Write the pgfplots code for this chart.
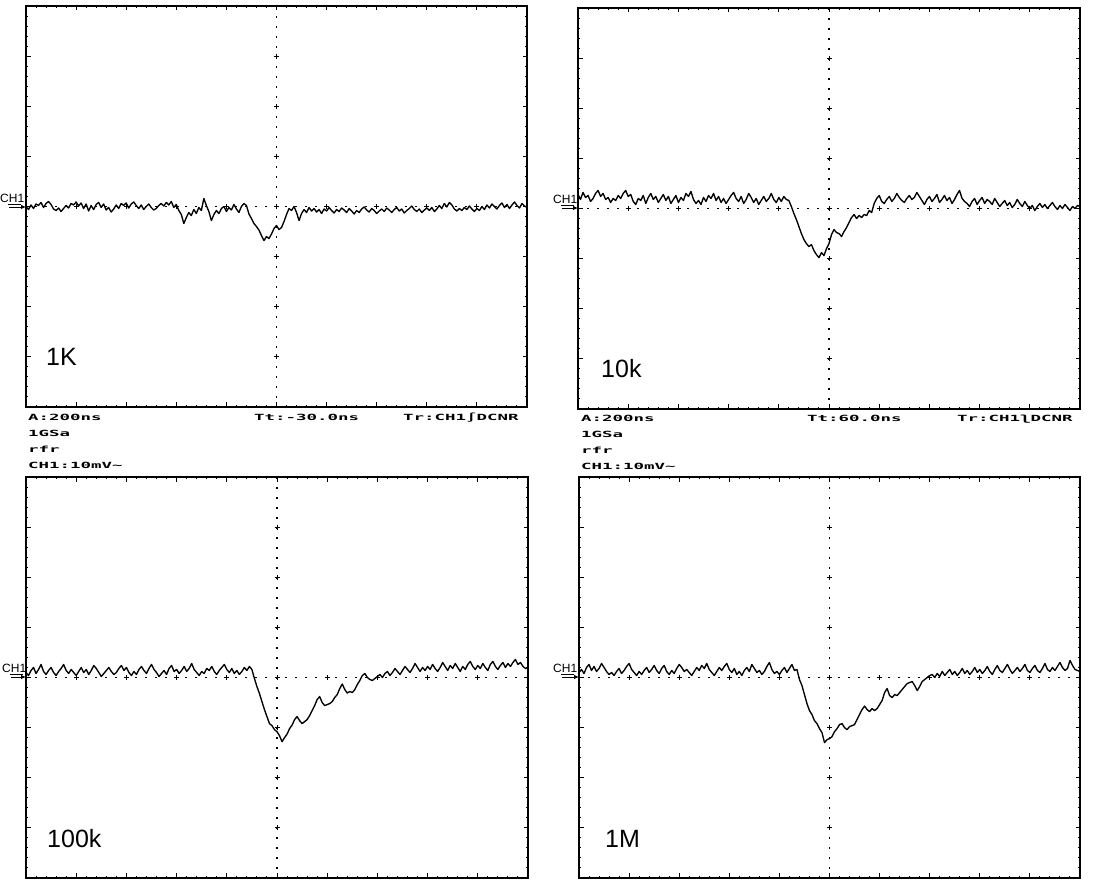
\documentclass[border=0pt]{standalone}
\usepackage{fontspec}
\setmainfont{Liberation Sans}
\setmonofont{DejaVu Sans Mono}
\usepackage{graphicx}
\usepackage{pgfplots}
\pgfplotsset{compat=1.18}
\usetikzlibrary{arrows.meta}

% one scope screen: 10 x 8 divisions, no numbers
\pgfplotsset{scopescreen/.style={
    scale only axis, height=401pt,
    xmin=0, xmax=10, ymin=-4, ymax=4,
    xtick={0,...,10}, ytick={-4,...,4},
    xticklabels={}, yticklabels={},
    minor x tick num=4, minor y tick num=4,
    tick align=inside, major tick length=4.5pt, minor tick length=2pt,
    tick style={black, line width=1pt},
    axis line style={line width=1.4pt},
    anchor=south west, clip=false,
}}
\tikzset{
    trace/.style={black, line width=1.35pt, line join=round},
    grat/.style={black, line width=1.2pt, dash pattern=on 1.2pt off 8.8pt, dash phase=0.6pt},
    scopetxt/.style={anchor=base west, inner sep=0pt},
    bigtxt/.style={anchor=base west, inner sep=0pt, font=\fontsize{25}{28}\selectfont},
}
\newcommand{\scopetext}[1]{\scalebox{2.05}[1]{\ttfamily\bfseries\fontsize{8.5}{10}\selectfont #1}}
\newcommand{\graticule}{%
    \draw[grat] (axis cs:5,-4) -- (axis cs:5,4);
    \draw[grat] (axis cs:0,0) -- (axis cs:10,0);
    \addplot[only marks, mark=+, mark size=2.5pt, mark options={line width=0.9pt}] coordinates {
        (5,-3) (5,-2) (5,-1) (5,0) (5,1) (5,2) (5,3)
        (1,0) (2,0) (3,0) (4,0) (6,0) (7,0) (8,0) (9,0)};
}
\newcommand{\chmark}[3]{% x of text, y of arrow, x of frame
    \node[anchor=base west, inner sep=0pt, font=\fontsize{12}{12}\selectfont] at (#1pt,#2pt+4.5pt) {CH1};
    \draw[line width=0.7pt] (#1pt+8pt,#2pt+3pt) -- (#1pt+21pt,#2pt+3pt);
    \draw[line width=0.8pt, -{Latex[length=5pt,width=4.5pt]}] (#1pt+9pt,#2pt) -- (#3pt,#2pt);
}

\begin{document}
\begin{tikzpicture}
\useasboundingbox (0,0) rectangle (1100pt,880pt);

% ---------- 1K ----------
\begin{axis}[scopescreen, width=501pt, at={(26pt,473pt)}]
\graticule
\addplot[trace] table[row sep=\\, header=false, x expr=\coordindex*0.05, y index=0] {
0.00\\ -0.06\\ 0.03\\ -0.04\\ 0.05\\ 0.02\\ 0.08\\ -0.02\\ 0.06\\ 0.10\\ 0.04\\ -0.05\\ -0.08\\ -0.03\\ -0.10\\ -0.04\\ 0.02\\ -0.03\\ 0.06\\ 0.03\\
0.09\\ 0.01\\ 0.07\\ -0.04\\ 0.05\\ -0.09\\ 0.02\\ -0.06\\ 0.04\\ 0.08\\ -0.02\\ 0.05\\ -0.07\\ -0.02\\ -0.11\\ -0.05\\ 0.03\\ -0.04\\ 0.06\\ 0.02\\
0.07\\ -0.03\\ 0.05\\ 0.09\\ 0.02\\ -0.04\\ 0.03\\ -0.06\\ 0.00\\ 0.05\\ -0.02\\ -0.07\\ -0.04\\ 0.02\\ 0.06\\ 0.01\\ 0.08\\ 0.03\\ 0.10\\ -0.02\\
0.04\\ -0.08\\ -0.16\\ -0.34\\ -0.22\\ -0.12\\ -0.18\\ -0.06\\ -0.14\\ -0.02\\ -0.08\\ 0.16\\ 0.02\\ -0.10\\ -0.28\\ -0.16\\ -0.08\\ -0.14\\ -0.04\\ 0.00\\
-0.10\\ -0.02\\ -0.07\\ 0.04\\ -0.05\\ -0.12\\ 0.00\\ 0.06\\ 0.02\\ -0.15\\ -0.24\\ -0.34\\ -0.40\\ -0.47\\ -0.58\\ -0.68\\ -0.60\\ -0.64\\ -0.55\\ -0.44\\
-0.38\\ -0.46\\ -0.42\\ -0.30\\ -0.16\\ -0.04\\ -0.08\\ 0.00\\ -0.12\\ -0.28\\ -0.14\\ -0.06\\ -0.12\\ -0.02\\ -0.09\\ -0.04\\ -0.11\\ -0.06\\ -0.14\\ -0.05\\
-0.09\\ -0.02\\ -0.08\\ -0.13\\ -0.06\\ -0.10\\ -0.03\\ -0.07\\ -0.12\\ -0.04\\ -0.09\\ -0.15\\ -0.08\\ -0.12\\ -0.05\\ -0.01\\ -0.07\\ -0.11\\ -0.04\\ -0.08\\
-0.14\\ -0.09\\ -0.05\\ -0.10\\ -0.03\\ -0.07\\ -0.12\\ -0.06\\ -0.02\\ -0.09\\ -0.05\\ -0.13\\ -0.08\\ -0.04\\ 0.01\\ -0.06\\ -0.10\\ -0.05\\ -0.12\\ -0.07\\
-0.03\\ -0.08\\ -0.02\\ -0.10\\ -0.05\\ 0.02\\ -0.04\\ 0.06\\ -0.01\\ 0.08\\ 0.03\\ -0.05\\ -0.09\\ -0.04\\ -0.08\\ -0.02\\ -0.06\\ 0.01\\ -0.05\\ -0.10\\
-0.04\\ -0.08\\ 0.00\\ -0.06\\ 0.03\\ -0.03\\ 0.05\\ 0.00\\ -0.05\\ 0.02\\ 0.07\\ -0.02\\ 0.04\\ -0.04\\ 0.03\\ 0.09\\ 0.02\\ -0.03\\ 0.06\\ 0.01\\
-0.02\\
};
\end{axis}

% ---------- 10k ----------
\begin{axis}[scopescreen, width=502pt, at={(578pt,471pt)}]
\graticule
\addplot[trace] table[row sep=\\, header=false, x expr=\coordindex*0.05, y index=0] {
0.28\\ 0.18\\ 0.32\\ 0.22\\ 0.26\\ 0.14\\ 0.20\\ 0.30\\ 0.36\\ 0.24\\ 0.30\\ 0.18\\ 0.22\\ 0.12\\ 0.20\\ 0.16\\ 0.26\\ 0.20\\ 0.30\\ 0.36\\
0.24\\ 0.28\\ 0.14\\ 0.08\\ 0.20\\ 0.16\\ 0.26\\ 0.10\\ 0.22\\ 0.30\\ 0.18\\ 0.24\\ 0.12\\ 0.20\\ 0.28\\ 0.16\\ 0.24\\ 0.10\\ 0.18\\ 0.26\\
0.12\\ 0.22\\ 0.16\\ 0.30\\ 0.24\\ 0.34\\ 0.18\\ 0.10\\ 0.16\\ 0.08\\ 0.22\\ 0.14\\ 0.26\\ 0.20\\ 0.30\\ 0.16\\ 0.24\\ 0.12\\ 0.20\\ 0.10\\
0.18\\ 0.26\\ 0.32\\ 0.20\\ 0.14\\ 0.24\\ 0.10\\ 0.18\\ 0.30\\ 0.22\\ 0.12\\ 0.20\\ 0.08\\ 0.16\\ 0.24\\ 0.14\\ 0.20\\ 0.30\\ 0.18\\ 0.12\\
0.22\\ 0.14\\ 0.24\\ 0.18\\ 0.16\\ 0.04\\ -0.10\\ -0.22\\ -0.36\\ -0.50\\ -0.62\\ -0.70\\ -0.76\\ -0.72\\ -0.84\\ -0.92\\ -0.98\\ -0.88\\ -0.94\\ -0.80\\
-0.70\\ -0.52\\ -0.42\\ -0.48\\ -0.50\\ -0.56\\ -0.46\\ -0.38\\ -0.28\\ -0.18\\ -0.12\\ -0.20\\ -0.14\\ -0.18\\ -0.12\\ -0.14\\ -0.04\\ -0.08\\ 0.10\\ 0.20\\
0.26\\ 0.14\\ 0.10\\ 0.18\\ 0.24\\ 0.14\\ 0.20\\ 0.30\\ 0.22\\ 0.16\\ 0.12\\ 0.20\\ 0.26\\ 0.18\\ 0.22\\ 0.32\\ 0.24\\ 0.16\\ 0.08\\ 0.18\\
0.24\\ 0.14\\ 0.20\\ 0.28\\ 0.12\\ 0.18\\ 0.26\\ 0.16\\ 0.22\\ 0.10\\ 0.18\\ 0.28\\ 0.36\\ 0.20\\ 0.14\\ 0.10\\ 0.04\\ 0.14\\ 0.20\\ 0.08\\
0.16\\ 0.22\\ 0.10\\ 0.18\\ 0.14\\ 0.08\\ 0.20\\ 0.12\\ 0.04\\ 0.10\\ 0.16\\ 0.06\\ 0.12\\ 0.02\\ 0.08\\ 0.18\\ 0.10\\ 0.04\\ 0.14\\ 0.06\\
0.00\\ 0.06\\ -0.04\\ 0.04\\ 0.10\\ 0.02\\ 0.08\\ 0.00\\ 0.06\\ 0.12\\ 0.04\\ -0.02\\ 0.06\\ 0.00\\ 0.08\\ 0.02\\ -0.04\\ 0.04\\ 0.00\\ 0.06\\
0.04\\
};
\end{axis}

% ---------- 100k ----------
\begin{axis}[scopescreen, width=502pt, at={(26pt,2pt)}]
\graticule
\addplot[trace] table[row sep=\\, header=false, x expr=\coordindex*0.05, y index=0] {
0.10\\ 0.04\\ 0.14\\ 0.20\\ 0.08\\ 0.16\\ 0.26\\ 0.12\\ 0.06\\ 0.14\\ 0.20\\ 0.10\\ 0.04\\ 0.12\\ 0.18\\ 0.26\\ 0.14\\ 0.08\\ 0.16\\ 0.10\\
0.04\\ 0.12\\ 0.20\\ 0.10\\ 0.16\\ 0.06\\ 0.14\\ 0.24\\ 0.18\\ 0.10\\ 0.02\\ 0.08\\ 0.14\\ 0.20\\ 0.12\\ 0.06\\ 0.10\\ 0.18\\ 0.24\\ 0.14\\
0.20\\ 0.10\\ 0.04\\ 0.12\\ 0.06\\ 0.16\\ 0.22\\ 0.14\\ 0.08\\ 0.18\\ 0.26\\ 0.16\\ 0.10\\ 0.02\\ 0.08\\ 0.14\\ 0.06\\ 0.18\\ 0.24\\ 0.12\\
0.16\\ 0.08\\ 0.14\\ 0.22\\ 0.12\\ 0.18\\ 0.28\\ 0.16\\ 0.10\\ 0.04\\ 0.12\\ 0.08\\ 0.18\\ 0.14\\ 0.22\\ 0.12\\ 0.06\\ 0.14\\ 0.20\\ 0.26\\
0.16\\ 0.10\\ 0.18\\ 0.08\\ 0.14\\ 0.06\\ 0.12\\ 0.20\\ 0.14\\ 0.22\\ 0.16\\ -0.02\\ -0.18\\ -0.32\\ -0.48\\ -0.64\\ -0.78\\ -0.92\\ -0.96\\ -1.04\\
-1.08\\ -1.16\\ -1.28\\ -1.20\\ -1.13\\ -1.02\\ -0.95\\ -0.84\\ -0.78\\ -0.86\\ -0.92\\ -0.88\\ -0.84\\ -0.76\\ -0.66\\ -0.56\\ -0.44\\ -0.38\\ -0.50\\ -0.56\\
-0.54\\ -0.52\\ -0.48\\ -0.40\\ -0.34\\ -0.22\\ -0.13\\ -0.24\\ -0.31\\ -0.28\\ -0.30\\ -0.24\\ -0.14\\ -0.06\\ 0.04\\ 0.08\\ 0.00\\ -0.04\\ -0.06\\ -0.02\\
0.02\\ 0.06\\ 0.00\\ 0.08\\ 0.12\\ 0.04\\ 0.10\\ 0.18\\ 0.12\\ 0.06\\ 0.14\\ 0.22\\ 0.16\\ 0.10\\ 0.18\\ 0.28\\ 0.20\\ 0.12\\ 0.20\\ 0.14\\
0.22\\ 0.16\\ 0.26\\ 0.18\\ 0.12\\ 0.20\\ 0.30\\ 0.22\\ 0.14\\ 0.24\\ 0.18\\ 0.28\\ 0.20\\ 0.12\\ 0.22\\ 0.16\\ 0.26\\ 0.32\\ 0.22\\ 0.16\\
0.24\\ 0.18\\ 0.28\\ 0.20\\ 0.14\\ 0.26\\ 0.32\\ 0.22\\ 0.16\\ 0.24\\ 0.30\\ 0.20\\ 0.28\\ 0.22\\ 0.30\\ 0.36\\ 0.26\\ 0.30\\ 0.22\\ 0.18\\
0.20\\
};
\end{axis}

% ---------- 1M ----------
\begin{axis}[scopescreen, width=501pt, at={(579pt,2pt)}]
\graticule
\addplot[trace] table[row sep=\\, header=false, x expr=\coordindex*0.05, y index=0] {
0.10\\ 0.16\\ 0.08\\ 0.20\\ 0.26\\ 0.14\\ 0.22\\ 0.12\\ 0.18\\ 0.28\\ 0.20\\ 0.12\\ 0.06\\ 0.10\\ 0.04\\ 0.12\\ 0.18\\ 0.08\\ 0.14\\ 0.22\\
0.28\\ 0.16\\ 0.10\\ 0.04\\ 0.12\\ 0.06\\ 0.14\\ 0.20\\ 0.10\\ 0.16\\ 0.24\\ 0.14\\ 0.08\\ 0.18\\ 0.24\\ 0.12\\ 0.06\\ 0.14\\ 0.08\\ 0.18\\
0.26\\ 0.20\\ 0.12\\ 0.16\\ 0.10\\ 0.04\\ 0.12\\ 0.20\\ 0.14\\ 0.24\\ 0.18\\ 0.28\\ 0.16\\ 0.10\\ 0.04\\ 0.12\\ 0.20\\ 0.14\\ 0.22\\ 0.28\\
0.16\\ 0.10\\ 0.18\\ 0.06\\ 0.12\\ 0.04\\ 0.14\\ 0.20\\ 0.12\\ 0.26\\ 0.18\\ 0.10\\ 0.14\\ 0.06\\ 0.12\\ 0.22\\ 0.30\\ 0.16\\ 0.08\\ 0.12\\
0.06\\ 0.14\\ 0.20\\ 0.10\\ 0.18\\ 0.26\\ 0.14\\ 0.16\\ -0.04\\ -0.16\\ -0.34\\ -0.52\\ -0.66\\ -0.74\\ -0.86\\ -0.92\\ -1.02\\ -1.10\\ -1.30\\ -1.24\\
-1.22\\ -1.18\\ -1.08\\ -1.02\\ -0.94\\ -0.92\\ -1.00\\ -1.04\\ -0.98\\ -0.96\\ -0.94\\ -0.84\\ -0.74\\ -0.64\\ -0.57\\ -0.64\\ -0.68\\ -0.62\\ -0.66\\ -0.62\\
-0.54\\ -0.46\\ -0.30\\ -0.22\\ -0.36\\ -0.40\\ -0.34\\ -0.36\\ -0.30\\ -0.24\\ -0.18\\ -0.12\\ -0.10\\ -0.08\\ -0.16\\ -0.26\\ -0.18\\ -0.08\\ -0.04\\ 0.00\\
0.04\\ 0.06\\ 0.00\\ 0.08\\ 0.02\\ 0.12\\ 0.04\\ 0.10\\ 0.16\\ 0.06\\ 0.12\\ 0.04\\ 0.10\\ 0.18\\ 0.08\\ 0.14\\ 0.06\\ 0.12\\ 0.20\\ 0.10\\
0.16\\ 0.08\\ 0.14\\ 0.22\\ 0.12\\ 0.06\\ 0.16\\ 0.24\\ 0.14\\ 0.10\\ 0.18\\ 0.26\\ 0.16\\ 0.08\\ 0.14\\ 0.20\\ 0.12\\ 0.18\\ 0.26\\ 0.14\\
0.10\\ 0.18\\ 0.24\\ 0.14\\ 0.10\\ 0.18\\ 0.28\\ 0.16\\ 0.12\\ 0.20\\ 0.14\\ 0.22\\ 0.30\\ 0.20\\ 0.14\\ 0.18\\ 0.34\\ 0.24\\ 0.16\\ 0.14\\
0.12\\
};
\end{axis}

% channel markers
\chmark{0}{673}{26}
\chmark{553}{672}{578}
\chmark{2}{203}{26}
\chmark{553}{203}{579}

% big labels
\node[bigtxt] at (46pt,514pt) {1K};
\node[bigtxt] at (601pt,502pt) {10k};
\node[bigtxt] at (47pt,32pt) {100k};
\node[bigtxt] at (605pt,32pt) {1M};

% status lines under the upper screens
\node[scopetxt] at (28pt,459pt) {\scopetext{A:200ns}};
\node[scopetxt] at (254pt,459pt) {\scopetext{Tt:-30.0ns}};
\node[scopetxt] at (403pt,459pt) {\scopetext{Tr:CH1∫DCNR}};
\node[scopetxt] at (28pt,443pt) {\scopetext{1GSa}};
\node[scopetxt] at (28pt,427pt) {\scopetext{rfr}};
\node[scopetxt] at (28pt,411pt) {\scopetext{CH1:10mV\char`\~}};

\node[scopetxt] at (581pt,458pt) {\scopetext{A:200ns}};
\node[scopetxt] at (807pt,458pt) {\scopetext{Tt:60.0ns}};
\node[scopetxt] at (957pt,458pt) {\scopetext{Tr:CH1ʅDCNR}};
\node[scopetxt] at (581pt,442pt) {\scopetext{1GSa}};
\node[scopetxt] at (581pt,426pt) {\scopetext{rfr}};
\node[scopetxt] at (581pt,410pt) {\scopetext{CH1:10mV\char`\~}};
\end{tikzpicture}
\end{document}
